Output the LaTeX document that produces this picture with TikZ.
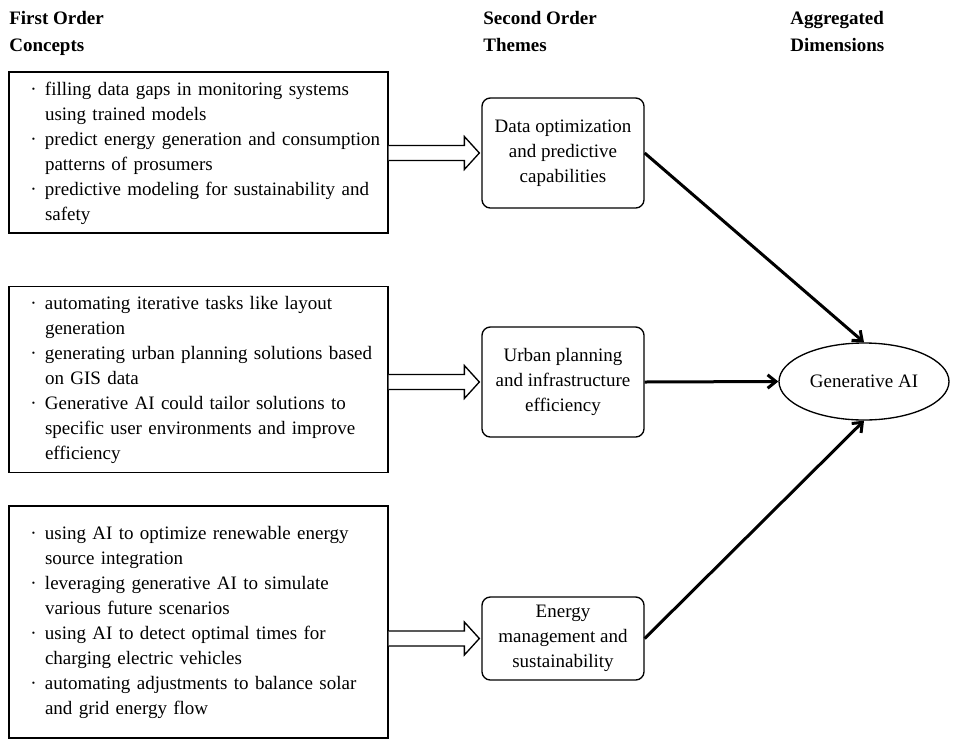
\documentclass[tikz,border=0pt]{standalone}
\usepackage{fontspec}
\setmainfont{Liberation Serif}
\usetikzlibrary{shapes.geometric,arrows.meta,calc}

\newcommand\bul{\llap{·\hspace{5pt}}}

\begin{document}
\begin{tikzpicture}[x=0.6pt,y=-0.6pt,
    every node/.style={font=\fontsize{11.4}{15}\selectfont},
    heading/.style={anchor=base west,align=left,inner sep=0pt,
        font=\fontsize{11.4}{16}\selectfont\bfseries},
    conceptbox/.style={draw,line width=0.8pt,minimum width=379*0.6pt,
        text width=222.6pt,inner xsep=2.4pt,align=left},
    themebox/.style={draw,line width=0.8pt,rounded corners=5pt,
        minimum width=162*0.6pt,align=center,inner sep=0pt},
    dimension/.style={draw,ellipse,line width=0.8pt,
        minimum width=170*0.6pt,minimum height=77*0.6pt},
    link/.style={line width=1.8pt,
        -{Straight Barb[length=5pt,width=8pt,line width=1.8pt]}}
]
    \useasboundingbox (0,0) rectangle (955,740);

    % Column headings
    \node[heading] (h1) at (9,51) {First Order\\Concepts};
    \node[heading] (h2) at (483,51) {Second Order\\Themes};
    \node[heading] (h3) at (790,51) {Aggregated\\Dimensions};

    % First order concepts
    \node[conceptbox,minimum height=161*0.6pt] (fo1) at (198.5,152.5) {%
        \begin{tabular}{@{\hspace{19.2pt}}l@{}}
        \bul filling data gaps in monitoring systems\\
        using trained models\\
        \bul predict energy generation and consumption\\
        patterns of prosumers\\
        \bul predictive modeling for sustainability and\\
        safety
        \end{tabular}};
    \node[conceptbox,minimum height=181*0.6pt] (fo2) at (198.5,379.5) {%
        \begin{tabular}{@{\hspace{19.2pt}}l@{}}
        \bul automating iterative tasks like layout\\
        generation\\
        \bul generating urban planning solutions based\\
        on GIS data\\
        \bul Generative AI could tailor solutions to\\
        specific user environments and improve\\
        efficiency
        \end{tabular}};
    \node[conceptbox,minimum height=232*0.6pt] (fo3) at (198.5,622) {%
        \begin{tabular}{@{\hspace{19.2pt}}l@{}}
        \bul using AI to optimize renewable energy\\
        source integration\\
        \bul leveraging generative AI to simulate\\
        various future scenarios\\
        \bul using AI to detect optimal times for\\
        charging electric vehicles\\
        \bul automating adjustments to balance solar\\
        and grid energy flow
        \end{tabular}};

    % Second order themes
    \node[themebox,minimum height=110*0.6pt] (so1) at (563,153)
        {Data optimization\\and predictive\\capabilities};
    \node[themebox,minimum height=110*0.6pt] (so2) at (563,382)
        {Urban planning\\and infrastructure\\efficiency};
    \node[themebox,minimum height=83*0.6pt] (so3) at (563,638.5)
        {Energy\\management and\\sustainability};

    % Aggregated dimension
    \node[dimension] (ad) at (864,381.5) {Generative AI};

    % Hollow arrows and links
    \foreach \i/\a in {1/north,2/west,3/south} {
        \draw[line width=0.8pt,fill=white]
            ($(fo\i.east |- so\i.west)+(0,-7.5)$) -- ($(so\i.west)+(-17,-7.5)$)
            -- ($(so\i.west)+(-17,-16.5)$) -- ($(so\i.west)+(-2,0)$)
            -- ($(so\i.west)+(-17,16.5)$) -- ($(so\i.west)+(-17,7.5)$)
            -- ($(fo\i.east |- so\i.west)+(0,7.5)$);
        \draw[link] (so\i.east) -- (ad.\a);
    }
\end{tikzpicture}
\end{document}
